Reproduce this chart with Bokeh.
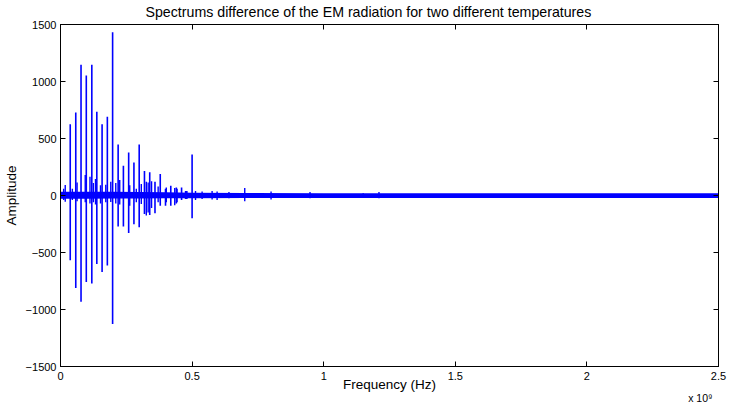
from bokeh.plotting import figure
from bokeh.models import Range1d, FixedTicker, LinearAxis, Title
from bokeh.embed import file_html
from bokeh.resources import INLINE

# ---- data (frequency in units of 1e9 Hz, amplitude) ----
# main harmonic spikes
harm_f = [0.037, 0.058, 0.078, 0.098, 0.119, 0.138, 0.158, 0.178, 0.198, 0.219,
          0.239, 0.259, 0.279, 0.299, 0.319, 0.339, 0.359, 0.379, 0.399, 0.419,
          0.440, 0.460, 0.480, 0.500]
harm_pos = [624, 727, 1148, 1052, 1148, 735, 624, 691, 1431, 447,
            260, 377, 290, 447, 214, 203, 121, 188, 60, 86,
            70, 70, 40, 360]
harm_neg = [-569, -811, -933, -758, -773, -601, -671, -613, -1128, -272,
            -272, -330, -252, -278, -162, -170, -155, -89, -89, -89,
            -70, -40, -30, -199]

# smaller spikes between the harmonics and above 0.5e9
minor_f = [0.012, 0.018, 0.045, 0.063, 0.094, 0.112, 0.125, 0.133, 0.152, 0.172,
           0.191, 0.210, 0.225, 0.263, 0.288, 0.307, 0.326, 0.333, 0.346, 0.371,
           0.402, 0.434, 0.443, 0.475, 0.513, 0.538, 0.576, 0.595, 0.640, 0.700,
           0.800, 0.948, 1.150, 1.210]
minor_pos = [60, 92, 60, 115, 179, 164, 110, 144, 90, 95,
             120, 110, 135, 90, 60, 100, 120, 115, 125, 80,
             70, 65, 60, 40, 40, 35, 40, 35, 30, 65,
             35, 30, 20, 30]
minor_neg = [-40, -54, -40, -50, -60, -70, -60, -80, -70, -60,
             -58, -70, -80, -90, -60, -75, -175, -150, -110, -60,
             -60, -85, -60, -30, -40, -30, -35, -40, -25, -50,
             -35, -25, -20, -25]

# noise floor envelope
noise_f = [0.0, 0.1, 0.2, 0.3, 0.4, 0.5, 0.7, 1.0, 1.5, 2.0, 2.5]
noise_hi = [33, 33, 32, 30, 28, 25, 22, 20, 19, 19, 19]
noise_lo = [-28, -28, -27, -26, -25, -24, -22, -22, -22, -22, -22]

x_ticks = [0, 0.5, 1, 1.5, 2, 2.5]
x_labels = ["0", "0.5", "1", "1.5", "2", "2.5"]
y_ticks = [-1500, -1000, -500, 0, 500, 1000, 1500]
y_labels = ["\u22121500", "\u22121000", "\u2212500", "0", "500", "1000", "1500"]
x_scale_text = "x 10\u2079"

FONT = "Liberation Sans"
BLUE = "#0000ff"

p = figure(width=729, height=402, output_backend="svg", toolbar_location=None,
           x_range=Range1d(0, 2.5), y_range=Range1d(-1500, 1500),
           min_border_left=58, min_border_right=11, min_border_top=24,
           min_border_bottom=35,
           title="Spectrums difference of the EM radiation for two different temperatures")
p.title.text_font = FONT
p.title.text_font_size = "14.2px"
p.title.text_font_style = "normal"
p.title.align = "left"
p.title.offset = 85
p.title.vertical_align = "top"
p.title.standoff = 5
p.title.text_color = "black"
p.background_fill_color = "white"
p.border_fill_color = "white"
p.outline_line_color = "black"
p.xgrid.visible = False
p.ygrid.visible = False

p.varea(x=noise_f, y1=noise_lo, y2=noise_hi, fill_color=BLUE)
p.segment(x0=harm_f, y0=harm_neg, x1=harm_f, y1=harm_pos, line_color=BLUE, line_width=1.6)
p.segment(x0=minor_f, y0=minor_neg, x1=minor_f, y1=minor_pos, line_color=BLUE, line_width=1.4)


def style(ax):
    ax.major_tick_in = 5
    ax.major_tick_out = 0
    ax.minor_tick_line_color = None
    ax.axis_line_color = "black"
    ax.major_tick_line_color = "black"
    ax.major_label_text_font = FONT
    ax.major_label_text_font_size = "11px"
    ax.major_label_text_color = "black"
    ax.axis_label_text_font = FONT
    ax.axis_label_text_font_size = "13.5px"
    ax.axis_label_text_font_style = "normal"
    ax.axis_label_text_color = "black"


xa = p.xaxis[0]
xa.ticker = FixedTicker(ticks=x_ticks)
xa.major_label_overrides = dict(zip(x_ticks, x_labels))
xa.axis_label = "Frequency (Hz)"
xa.major_label_standoff = 5
xa.axis_label_standoff = -6
style(xa)

ya = p.yaxis[0]
ya.ticker = FixedTicker(ticks=y_ticks)
ya.major_label_overrides = dict(zip(y_ticks, y_labels))
ya.axis_label = "Amplitude"
ya.major_label_standoff = 4
ya.axis_label_standoff = 4
style(ya)

top = LinearAxis(ticker=FixedTicker(ticks=x_ticks), major_label_standoff=0)
style(top)
top.major_label_text_alpha = 0
top.major_label_overrides = {t: " " for t in x_ticks}
p.add_layout(top, "above")
right = LinearAxis(ticker=FixedTicker(ticks=y_ticks), major_label_standoff=0)
style(right)
right.major_label_text_alpha = 0
right.major_label_overrides = {t: " " for t in y_ticks}
p.add_layout(right, "right")

scale_title = Title(text=x_scale_text, align="right", vertical_align="top",
                    standoff=-6, offset=6,
                    text_font=FONT, text_font_size="10.5px", text_font_style="normal",
                    text_color="black")
p.add_layout(scale_title, "below")

open("out.html", "w").write(file_html(p, INLINE))
